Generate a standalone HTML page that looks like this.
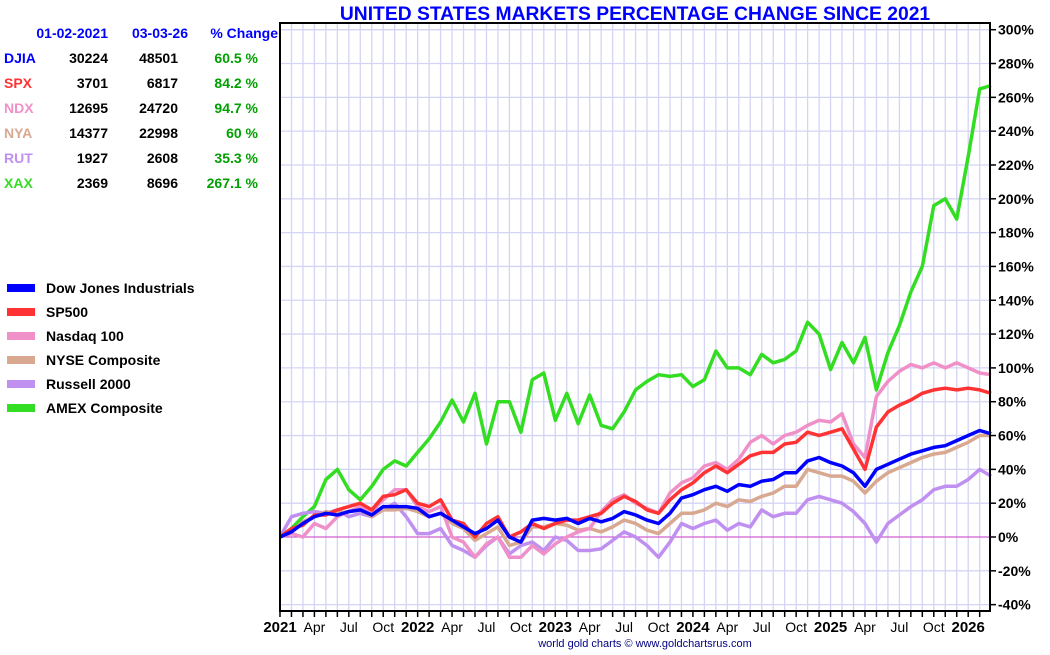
<!DOCTYPE html>
<html><head><meta charset="utf-8"><style>
body{margin:0;background:#fff;width:1050px;height:650px;overflow:hidden;font-family:"Liberation Sans",Arial,sans-serif}
svg text{font-family:"Liberation Sans",Arial,sans-serif;font-weight:bold}
</style></head><body>
<svg id="chart" width="1050" height="650" xmlns="http://www.w3.org/2000/svg">
<text x="635" y="20" text-anchor="middle" font-size="19.3" fill="#0000ff">UNITED STATES MARKETS PERCENTAGE CHANGE SINCE 2021</text>
<g id="grid"></g>
<g id="series"></g>
<g id="axes"></g>
<g id="table"></g>
<g id="legend"></g>
<text x="645" y="647" text-anchor="middle" font-size="11" fill="#000080" style="font-weight:normal">world gold charts © www.goldchartsrus.com</text>
</svg>
<script>
const monthLabels = ["2021","Apr","Jul","Oct","2022","Apr","Jul","Oct","2023","Apr","Jul","Oct","2024","Apr","Jul","Oct","2025","Apr","Jul","Oct","2026"];
const yTicks = [300,280,260,240,220,200,180,160,140,120,100,80,60,40,20,0,-20,-40];
const seriesNames = ["AMEX Composite","Russell 2000","NYSE Composite","Nasdaq 100","SP500","Dow Jones Industrials"];
const seriesColors = ["#33dd22","#c090f0","#d8a890","#f090c8","#ff3333","#0000ff"];
const xax = [0,5,12,18,34,40,28,22,30,40,45,42,50,58,68,81,68,85,55,80,80,62,93,97,69,85,67,84,66,64,74,87,92,96,95,96,89,93,110,100,100,96,108,103,105,110,127,120,99,115,103,118,87,109,125,145,160,196,200,188,225,265,267];
const rut = [0,12,14,15,14,16,12,14,12,16,20,12,2,2,5,-5,-8,-12,-5,0,-10,-5,-3,-8,0,-2,-8,-8,-7,-2,3,0,-5,-12,-3,8,5,8,10,4,8,6,16,12,14,14,22,24,22,20,15,8,-3,8,13,18,22,28,30,30,34,40,36];
const nya = [0,3,9,12,15,14,15,16,12,16,16,17,15,12,14,8,5,-2,2,6,-5,-3,6,6,8,7,4,5,3,6,10,8,4,2,8,14,14,16,20,18,22,21,24,26,30,30,40,38,36,36,33,26,33,38,41,44,47,49,50,53,56,60,60];
const ndx = [0,2,0,8,5,12,15,18,15,22,28,28,18,15,18,0,-3,-12,-4,0,-12,-12,-5,-10,-4,0,3,5,15,22,25,20,17,14,26,32,35,42,44,40,46,56,60,55,60,62,66,69,68,73,55,47,83,92,98,102,100,103,100,103,100,97,96];
const spx = [0,5,7,13,13,16,18,20,16,24,25,28,20,18,22,10,8,0,8,12,0,3,8,5,8,10,10,12,14,20,24,21,16,14,22,28,32,38,42,38,43,48,50,50,55,56,62,60,62,64,52,40,65,74,78,81,85,87,88,87,88,87,85];
const djia = [0,3,8,12,14,13,15,16,13,18,18,18,17,12,14,10,6,2,5,10,0,-3,10,11,10,11,8,11,9,11,15,13,10,8,14,23,25,28,30,27,31,30,33,34,38,38,45,47,44,42,38,30,40,43,46,49,51,53,54,57,60,63,61];
const allSeries = [xax,rut,nya,ndx,spx,djia];
const tableRows = [["DJIA","30224","48501","60.5 %","#0000ff"],["SPX","3701","6817","84.2 %","#ff3333"],["NDX","12695","24720","94.7 %","#f090c8"],["NYA","14377","22998","60 %","#d8a890"],["RUT","1927","2608","35.3 %","#c090f0"],["XAX","2369","8696","267.1 %","#33dd22"]];

const NS="http://www.w3.org/2000/svg";
const X0=280,X1=990,YT=23,YB=611,MW=11.47;
const xS=m=>X0+m*MW;
const yS=v=>537-(v)*1.691;
function mk(tag,attrs,parent){const e=document.createElementNS(NS,tag);for(const k in attrs)e.setAttribute(k,attrs[k]);parent.appendChild(e);return e;}
const grid=document.getElementById('grid'),axes=document.getElementById('axes'),ser=document.getElementById('series');
for(let m=1;X0+m*MW<X1;m++){const l=mk('line',{x1:xS(m),x2:xS(m),y1:YT,y2:YB,stroke:'#d4d4f4','stroke-width':1.3},grid);

}
for(let v=-40;v<=300;v+=20){const l=mk('line',{x1:X0,x2:X1,y1:yS(v),y2:yS(v),stroke:'#d4d4f4','stroke-width':1.3},grid);

}
const z=mk('line',{x1:X0,x2:X1,y1:yS(0),y2:yS(0),stroke:'#d040c8','stroke-width':1},grid);


allSeries.forEach((arr,i)=>{const p=mk('polyline',{points:arr.map((v,m)=>xS(m).toFixed(1)+','+yS(v).toFixed(1)).join(' '),fill:'none',stroke:seriesColors[i],'stroke-width':3.5,'stroke-linejoin':'round'},ser);

});
const fr=mk('path',{d:`M${X0},${YT}H${X1}V${YB}H${X0}Z`,fill:'none',stroke:'#000','stroke-width':2},axes);


yTicks.forEach(v=>{mk('line',{x1:X1,x2:X1+6,y1:yS(v),y2:yS(v),stroke:'#000','stroke-width':1.5},axes);
const t=mk('text',{x:X1+8,y:yS(v)+5,'font-size':14},axes);t.textContent=v+'%';

});
for(let m=0;xS(m)<=X1;m++){mk('line',{x1:xS(m),x2:xS(m),y1:YB,y2:YB+6,stroke:'#000','stroke-width':1.5},axes);}
monthLabels.forEach((lab,i)=>{const yr=/^\d{4}$/.test(lab);const t=mk('text',{x:xS(i*3),y:632,'text-anchor':'middle','font-size':yr?15:14,style:yr?'':'font-weight:normal'},axes);t.textContent=lab;

});
const tb=document.getElementById('table');
[["01-02-2021",108],["03-03-26",188],["% Change",278]].forEach(h=>{const t=mk('text',{x:h[1],y:38,'text-anchor':'end','font-size':14,fill:'#0000ff'},tb);t.textContent=h[0];

});
tableRows.forEach((r,i)=>{const y=63+i*25;
const a=mk('text',{x:4,y:y,'font-size':14,fill:r[4]},tb);a.textContent=r[0];


[[r[1],108,'#000'],[r[2],178,'#000'],[r[3],258,'#00a000']].forEach(c=>{const t=mk('text',{x:c[1],y:y,'text-anchor':'end','font-size':14,fill:c[2]},tb);t.textContent=c[0];

});});
const lg=document.getElementById('legend');
const legOrder=[5,4,3,2,1,0];
legOrder.forEach((si,i)=>{const y=288+i*24;
const r=mk('rect',{x:7,y:y-4,width:28,height:8,fill:seriesColors[si]},lg);


const t=mk('text',{x:46,y:y+5,'font-size':14},lg);t.textContent=seriesNames[si];

});
</script>
</body></html>
